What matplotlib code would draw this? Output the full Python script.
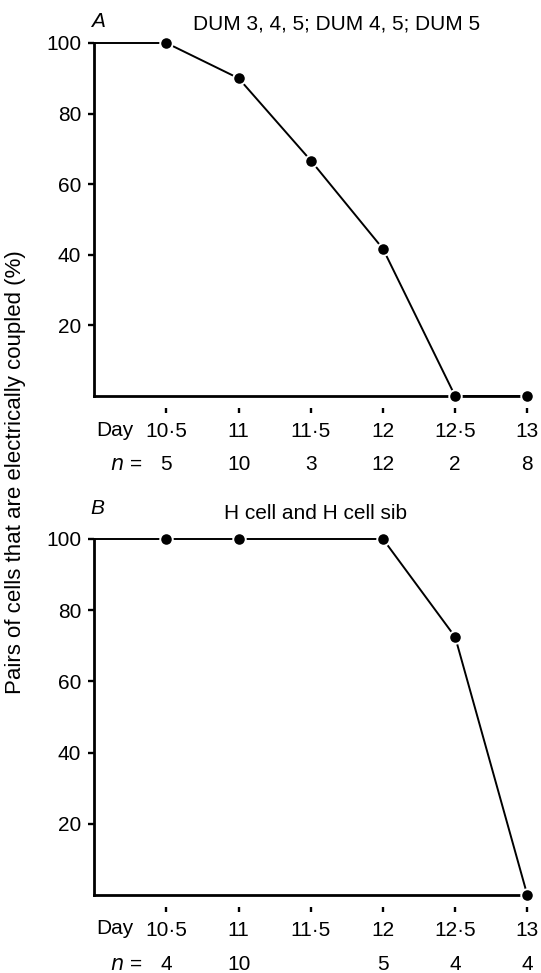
import numpy as np
import matplotlib
matplotlib.use('Agg')
import matplotlib.pyplot as plt

plt.rcParams['font.family'] = ['Liberation Sans', 'DejaVu Sans']

# data
days = [10.5, 11, 11.5, 12, 12.5, 13]
day_labels = ['10·5', '11', '11·5', '12', '12·5', '13']

days_a = [10.5, 11, 11.5, 12, 12.5, 13]
pct_a = [100, 90, 66.7, 41.7, 0, 0]
n_a = ['5', '10', '3', '12', '2', '8']
title_a = 'DUM 3, 4, 5; DUM 4, 5; DUM 5'

days_b = [10.5, 11, 12, 12.5, 13]
pct_b = [100, 100, 100, 72.5, 0]
n_b = ['4', '10', '', '5', '4', '4']
title_b = 'H cell and H cell sib'

ylabel = 'Pairs of cells that are electrically coupled (%)'

W, H = 541, 973
PX = 0.72  # points per pixel at dpi 100
FS = 15


def draw_panel(ax, x, y, n_list, letter, title, title_x, title_y, letter_y):
    ax.set_xlim(10, 13)
    ax.set_ylim(0, 100)
    # horizontal lead-in from the axis to the first point
    ax.plot([10, x[0]], [y[0], y[0]], color='black', lw=1.4, clip_on=False, zorder=3)
    ax.plot(x, y, color='black', lw=1.4, marker='o', ms=9, mfc='black',
            mec='white', mew=1.4, clip_on=False, zorder=5)
    ax.axhline(0, color='black', lw=2.0, zorder=2, clip_on=False)

    for s in ['top', 'right']:
        ax.spines[s].set_visible(False)
    ax.spines['left'].set_linewidth(2.0)
    ax.spines['bottom'].set_position(('outward', 12 * PX))
    ax.spines['bottom'].set_visible(False)

    ax.set_yticks([20, 40, 60, 80, 100])
    ax.tick_params(axis='y', direction='out', length=6 * PX, width=1.7,
                   pad=7 * PX, labelsize=FS)
    ax.set_xticks(days)
    ax.set_xticklabels(day_labels)
    ax.tick_params(axis='x', direction='out', length=5 * PX, width=1.7,
                   pad=9 * PX, labelsize=FS)

    ax.annotate('Day', xy=(10, 0), xytext=(2 * PX, -34 * PX), textcoords='offset points',
                ha='left', va='center', fontsize=FS, annotation_clip=False)
    ax.annotate('$n$ =', xy=(10, 0), xytext=(48 * PX, -69 * PX), textcoords='offset points',
                ha='right', va='center', fontsize=FS, annotation_clip=False)
    for d, nv in zip(days, n_list):
        ax.annotate(nv, xy=(d, 0), xytext=(0, -69 * PX), textcoords='offset points',
                    ha='center', va='center', fontsize=FS, annotation_clip=False)

    ax.text(-0.008, letter_y, letter, transform=ax.transAxes, ha='left', va='center',
            fontsize=FS, style='italic')
    ax.text(title_x, title_y, title, transform=ax.transAxes,
            ha='center', va='center', fontsize=15)


fig = plt.figure(figsize=(W / 100, H / 100), dpi=100)
left = 94.3 / W
width = 433 / W
ax_a = fig.add_axes([left, (H - 396) / H, width, 353 / H])
ax_b = fig.add_axes([left, (H - 895) / H, width, 356 / H])

draw_panel(ax_a, days_a, pct_a, n_a, 'A', title_a, 0.56, 1.055, 1.06)
draw_panel(ax_b, days_b, pct_b, n_b, 'B', title_b, 0.512, 1.072, 1.087)

fig.text(16 / W, 1 - 472 / H, ylabel, rotation=90, ha='center', va='center', fontsize=16)

plt.savefig('out.png', dpi=100)
